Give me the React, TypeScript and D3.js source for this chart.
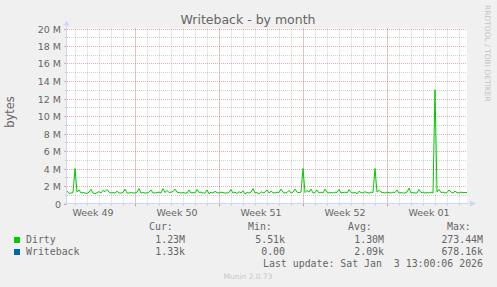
import React from "react";
import * as d3 from "d3";

// ---- data ----
const startTime = new Date(Date.UTC(2025, 11, 2, 8, 0, 0));
const endTime = new Date(Date.UTC(2026, 0, 4, 16, 0, 0));
const stepHours = 4;

// Dirty (MB), one sample per 4 hours
const dirtyValues: number[] = [
  1.45, 1.15, 1.2, 1.25, 4.0, 1.3, 1.55, 1.2, 1.25, 1.2,
  1.15, 1.3, 1.6, 1.2, 1.1, 1.25, 1.35, 1.2, 1.5, 1.35,
  1.6, 1.3, 1.2, 1.25, 1.2, 1.4, 1.2, 1.2, 1.25, 1.65,
  1.2, 1.2, 1.25, 1.2, 1.2, 1.3, 1.7, 1.2, 1.25, 1.2,
  1.2, 1.3, 1.55, 1.2, 1.2, 1.25, 1.3, 1.2, 1.7, 1.25,
  1.5, 1.25, 1.3, 1.35, 1.65, 1.3, 1.25, 1.2, 1.25, 1.2,
  1.2, 1.55, 1.2, 1.25, 1.2, 1.6, 1.25, 1.3, 1.2, 1.2,
  1.55, 1.1, 1.3, 1.2, 1.4, 1.25, 1.2, 1.3, 1.25, 1.2,
  1.2, 1.25, 1.6, 1.2, 1.3, 1.15, 1.35, 1.2, 1.45, 1.1,
  1.25, 1.2, 1.3, 1.7, 1.2, 1.25, 1.1, 1.35, 1.2, 1.3,
  1.55, 1.2, 1.4, 1.25, 1.2, 1.3, 1.25, 1.65, 1.3, 1.2,
  1.25, 1.5, 1.2, 1.3, 1.65, 1.3, 1.25, 1.3, 4.0, 1.25,
  1.5, 1.3, 1.65, 1.2, 1.25, 1.55, 1.2, 1.3, 1.2, 1.65,
  1.3, 1.2, 1.25, 1.2, 1.3, 1.25, 1.6, 1.2, 1.25, 1.3,
  1.2, 1.6, 1.25, 1.2, 1.3, 1.1, 1.4, 1.25, 1.2, 1.35,
  1.25, 1.2, 1.3, 1.25, 4.0, 1.3, 1.5, 1.3, 1.25, 1.2,
  1.3, 1.25, 1.2, 1.3, 1.25, 1.55, 1.2, 1.25, 1.2, 1.2,
  1.3, 1.75, 1.2, 1.25, 1.2, 1.2, 1.6, 1.25, 1.3, 1.2,
  1.25, 1.2, 1.3, 1.2, 13.0, 1.3, 1.6, 1.25, 1.3, 1.2,
  1.25, 1.55, 1.3, 1.2, 1.4, 1.25, 1.2, 1.3, 1.25, 1.25,
  1.25,
];
// Writeback (MB), essentially zero
const writebackValues: number[] = dirtyValues.map(() => 0.002);

const yTickValues = [0, 2, 4, 6, 8, 10, 12, 14, 16, 18, 20];
const yTickLabels = ["0", "2 M", "4 M", "6 M", "8 M", "10 M", "12 M", "14 M", "16 M", "18 M", "20 M"];
const weekLabels = ["Week 49", "Week 50", "Week 51", "Week 52", "Week 01"];

const seriesNames = ["Dirty", "Writeback"];
const seriesColors = ["#00CC00", "#0066B3"];
const curValues = ["1.23M", "1.33k"];
const minValues = ["5.51k", "0.00"];
const avgValues = ["1.30M", "2.09k"];
const maxValues = ["273.44M", "678.16k"];

const W = 497;
const H = 287;
const L = 67, R = 467, T = 28.5, B = 203.5;

export default function App() {
  const x = d3.scaleUtc().domain([startTime, endTime]).range([L, R]);
  const y = d3.scaleLinear().domain([0, 20]).range([B, T]);
  const tAt = (i: number) => new Date(startTime.getTime() + i * stepHours * 3600 * 1000);

  const days = d3.utcDay.range(startTime, endTime);
  const mondays = d3.utcMonday.range(startTime, endTime);
  const allMondays = d3.utcMonday.range(new Date(startTime.getTime() - 7 * 864e5), endTime);
  const labelMids = allMondays
    .map((m) => new Date(m.getTime() + 3.5 * 864e5))
    .filter((d) => d >= startTime && d <= endTime);

  const line = d3
    .line<number>()
    .x((_, i) => x(tAt(i)))
    .y((v) => y(v));

  const minorY = d3.range(1, 20, 2);
  const gridColor = "rgba(150,150,150,0.45)";
  const mgridColor = "rgba(210,90,90,0.5)";
  const axisColor = "#CFD6F8";
  const font = "'DejaVu Sans', sans-serif";
  const mono = "'DejaVu Sans Mono', monospace";
  const fontColor = "#666666";

  const cols = [
    { head: "Cur:", hx: 149, right: 185, vals: curValues },
    { head: "Min:", hx: 248, right: 285, vals: minValues },
    { head: "Avg:", hx: 348, right: 384, vals: avgValues },
    { head: "Max:", hx: 447, right: 483, vals: maxValues },
  ];

  return (
    <svg
      width={W}
      height={H}
      style={{ position: "absolute", left: 0, top: 0, background: "#F0F0F0" }}
    >
      <rect x={0} y={0} width={W} height={H} fill="#F0F0F0" />
      <rect x={L} y={T} width={R - L} height={B - T} fill="#FFFFFF" />

      {/* minor grid */}
      {days.map((d, i) => {
        const xx = Math.round(x(d)) + 0.5;
        return (
          <g key={"dg" + i}>
            <line x1={xx} x2={xx} y1={T} y2={B} stroke={gridColor} strokeDasharray="1,1" />
            <line x1={xx} x2={xx} y1={B} y2={B + 2} stroke={gridColor} />
          </g>
        );
      })}
      {minorY.map((v, i) => {
        const yy = Math.round(y(v)) + 0.5;
        return (
          <g key={"hg" + i}>
            <line x1={L} x2={R} y1={yy} y2={yy} stroke={gridColor} strokeDasharray="1,1" />
            <line x1={L - 2} x2={L} y1={yy} y2={yy} stroke={gridColor} />
          </g>
        );
      })}
      {/* major grid */}
      {mondays.map((d, i) => {
        const xx = Math.round(x(d)) + 0.5;
        return (
          <g key={"mg" + i}>
            <line x1={xx} x2={xx} y1={T} y2={B} stroke={mgridColor} strokeDasharray="1,1" />
            <line x1={xx} x2={xx} y1={B} y2={B + 3} stroke={mgridColor} />
          </g>
        );
      })}
      {yTickValues.map((v, i) => {
        const yy = Math.round(y(v)) + 0.5;
        return (
          <g key={"my" + i}>
            {v > 0 && (
              <line x1={L} x2={R} y1={yy} y2={yy} stroke={mgridColor} strokeDasharray="1,1" />
            )}
            <line x1={L - 3} x2={L} y1={yy} y2={yy} stroke={mgridColor} />
            <text
              x={L - 6}
              y={yy + 3.5}
              textAnchor="end"
              fontFamily={font}
              fontSize={9.5}
              fill={fontColor}
            >
              {yTickLabels[i]}
            </text>
          </g>
        );
      })}

      {/* series */}
      <path d={line(writebackValues) || ""} fill="none" stroke={seriesColors[1]} strokeWidth={1} />
      <path d={line(dirtyValues) || ""} fill="none" stroke={seriesColors[0]} strokeWidth={1} />

      {/* axes */}
      <line x1={L - 0.5} x2={L - 0.5} y1={B + 2} y2={T - 4} stroke={axisColor} />
      <path d={`M${L - 3.5},${T - 3} L${L + 2.5},${T - 3} L${L - 0.5},${T - 8} Z`} fill={axisColor} />
      <line x1={L - 3} x2={R + 4} y1={B} y2={B} stroke={axisColor} />
      <path d={`M${R + 3},${B - 3} L${R + 3},${B + 3} L${R + 9},${B} Z`} fill={axisColor} />

      {/* x labels */}
      {labelMids.map((d, i) => (
        <text
          key={"xl" + i}
          x={x(d)}
          y={216}
          textAnchor="middle"
          fontFamily={font}
          fontSize={9.5}
          fill={fontColor}
        >
          {weekLabels[i]}
        </text>
      ))}

      {/* title */}
      <text x={248} y={24} textAnchor="middle" fontFamily={font} fontSize={12.5} fill={fontColor}>
        Writeback - by month
      </text>

      {/* y label */}
      <text
        transform={`translate(14,${(T + B) / 2 - 4}) rotate(-90)`}
        textAnchor="middle"
        fontFamily={font}
        fontSize={11.5}
        fill={fontColor}
      >
        bytes
      </text>

      {/* watermark */}
      <text
        transform={`translate(485,5) rotate(90)`}
        textAnchor="start"
        fontFamily={font}
        fontSize={7.5}
        fill="#C4C4C4"
      >
        RRDTOOL / TOBI OETIKER
      </text>

      {/* legend */}
      {cols.map((c, ci) => (
        <g key={"c" + ci}>
          <text x={c.hx} y={230} fontFamily={mono} fontSize={9.9} fill={fontColor}>
            {c.head}
          </text>
          {c.vals.map((v, vi) => (
            <text
              key={vi}
              x={c.right}
              y={243 + vi * 12}
              textAnchor="end"
              fontFamily={mono}
              fontSize={9.9}
              fill={fontColor}
              style={{ whiteSpace: "pre" }}
            >
              {v}
            </text>
          ))}
        </g>
      ))}
      {seriesNames.map((n, i) => (
        <g key={"s" + i}>
          <rect x={14} y={237 + i * 12} width={6} height={6} fill={seriesColors[i]} />
          <text x={26} y={243 + i * 12} fontFamily={mono} fontSize={9.9} fill={fontColor}>
            {n}
          </text>
        </g>
      ))}
      <text
        x={483}
        y={267}
        textAnchor="end"
        fontFamily={mono}
        fontSize={9.9}
        fill={fontColor}
        style={{ whiteSpace: "pre" }}
        xmlSpace="preserve"
      >
        {"Last update: Sat Jan  3 13:00:06 2026"}
      </text>
      <text x={248} y={279} textAnchor="middle" fontFamily={font} fontSize={7.5} fill="#C8C8C8">
        Munin 2.0.73
      </text>
    </svg>
  );
}
